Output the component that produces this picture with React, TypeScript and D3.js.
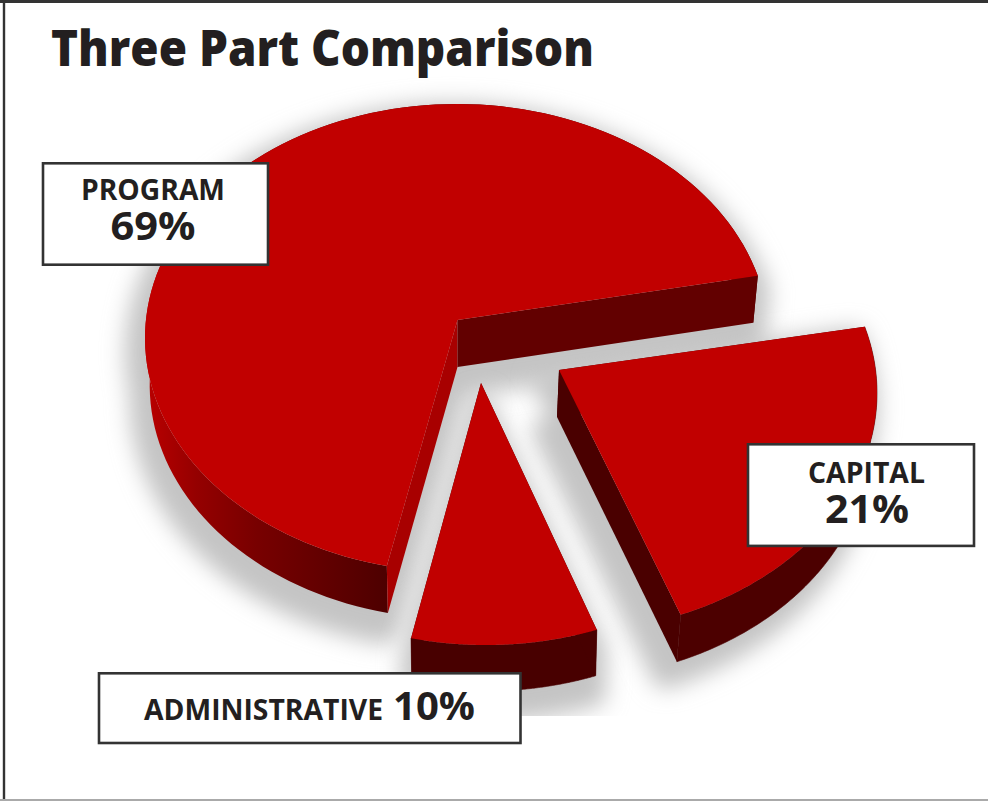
import React from "react";
import * as d3 from "d3";

const title = "Three Part Comparison";
const categories = ["CAPITAL", "ADMINISTRATIVE", "PROGRAM"];
const shares = [21, 10, 69];
const shareLabels = ["21%", "10%", "69%"];

const WIDTH = 988;
const HEIGHT = 801;
const INK = "#231f20";
const TOP = "#c10000";

type Layout = {
  apex: [number, number];
  centre: [number, number];
  rx: number;
  ry: number;
  sweep: [number, number];
  drop: [number, number];
  inset: number;
  cutA: string;
  cutB: string;
  wall: string;
  wallEdge: string;
  shadow: [number, number];
  spread: number;
};

const layouts: Layout[] = [
  { apex: [559, 370], centre: [559, 393], rx: 318, ry: 240, sweep: [74, 157.5], drop: [-2, 47], inset: 0.985, cutA: "#4a0000", cutB: "#4a0000", wall: "#4c0000", wallEdge: "#4c0000", shadow: [-12, 14], spread: 26 },
  { apex: [481, 383], centre: [486, 411], rx: 312, ry: 234, sweep: [159.2, 193.9], drop: [0, 46], inset: 0.99, cutA: "#480000", cutB: "#480000", wall: "#480000", wallEdge: "#480000", shadow: [0, 20], spread: 20 },
  { apex: [457.5, 320], centre: [457, 338], rx: 312, ry: 234, sweep: [193, 434.6], drop: [0, 47], inset: 0.985, cutA: "#a80000", cutB: "#620000", wall: "url(#programWall)", wallEdge: "none", shadow: [-4, 15], spread: 32 },
];

const pie = d3
  .pie<number>()
  .sort(null)
  .startAngle((74 * Math.PI) / 180)
  .endAngle((434 * Math.PI) / 180);
const pieArcs = pie(shares);
const line = d3.line<[number, number]>();

function buildSlice(arc: d3.PieArcDatum<number>, l: Layout) {
  // Pie angles are carried onto this slice's own perspective ellipse.
  const param = d3.scaleLinear().domain([arc.startAngle, arc.endAngle]).range(l.sweep);
  const samples = d3.range(0, 121).map((i) => arc.startAngle + ((arc.endAngle - arc.startAngle) * i) / 120);
  const topPt = (a: number): [number, number] => {
    const t = (param(a) * Math.PI) / 180;
    return [l.centre[0] + l.rx * Math.sin(t), l.centre[1] - l.ry * Math.cos(t)];
  };
  const lowPt = (a: number): [number, number] => {
    const t = (param(a) * Math.PI) / 180;
    return [
      l.centre[0] + l.drop[0] + l.inset * l.rx * Math.sin(t),
      l.centre[1] + l.drop[1] - l.ry * Math.cos(t),
    ];
  };
  const lowApex: [number, number] = [l.apex[0] + l.drop[0], l.apex[1] + l.drop[1]];
  const topRim = samples.map(topPt);
  const lowRim = samples.map(lowPt);
  const top = line([l.apex, ...topRim])! + "Z";
  const low = line([lowApex, ...lowRim])! + "Z";
  const wall = line([...topRim, ...lowRim.slice().reverse()])! + "Z";
  const first = samples[0];
  const last = samples[samples.length - 1];
  const cutA = line([l.apex, topPt(first), lowPt(first), lowApex])! + "Z";
  const cutB = line([l.apex, topPt(last), lowPt(last), lowApex])! + "Z";
  return { top, low, wall, cutA, cutB };
}

const slices = pieArcs.map((a, i) => ({ ...buildSlice(a, layouts[i]), l: layouts[i] }));
// painted back to front
const paintOrder = [2, 0, 1];

type Piece = { x: number; y: number; text: string; size: number; width: number };

function Box({ x, y, w, h, pieces }: { x: number; y: number; w: number; h: number; pieces: Piece[] }) {
  return (
    <g>
      <rect x={x} y={y} width={w} height={h} fill="#fff" stroke="#333" strokeWidth={2.6} />
      {pieces.map((p) => (
        <text
          key={p.text}
          x={p.x}
          y={p.y}
          fontSize={p.size}
          fontWeight={700}
          fill={INK}
          textLength={p.width}
          lengthAdjust="spacingAndGlyphs"
        >
          {p.text}
        </text>
      ))}
    </g>
  );
}

export default function App() {
  return (
    <svg
      width={WIDTH}
      height={HEIGHT}
      viewBox={`0 0 ${WIDTH} ${HEIGHT}`}
      style={{ position: "fixed", left: 0, top: 0, background: "#fff", fontFamily: "'Open Sans', sans-serif" }}
    >
      <defs>
        <linearGradient id="programWall" gradientUnits="userSpaceOnUse" x1={148} y1={0} x2={388} y2={0}>
          <stop offset="0" stopColor="#b80000" />
          <stop offset="0.2" stopColor="#950000" />
          <stop offset="0.45" stopColor="#780000" />
          <stop offset="1" stopColor="#4d0000" />
        </linearGradient>
        <filter id="soft" x="-20%" y="-20%" width="140%" height="140%">
          <feGaussianBlur stdDeviation={11} />
        </filter>
        <clipPath id="shadowClip">
          <rect x={0} y={0} width={WIDTH} height={716} />
        </clipPath>
      </defs>

      <line x1={0} x2={WIDTH} y1={1.5} y2={1.5} stroke="#333" strokeWidth={3} />
      <line x1={4} x2={4} y1={0} y2={HEIGHT} stroke="#333" strokeWidth={2.4} />
      <line x1={0} x2={WIDTH} y1={800} y2={800} stroke="#aaa" strokeWidth={2} />

      <text x={51} y={66} fontSize={50} fontWeight={800} fill={INK} textLength={543} lengthAdjust="spacingAndGlyphs">
        {title}
      </text>

      <g clipPath="url(#shadowClip)">
        {paintOrder.map((i) => (
          <g
            key={i}
            filter="url(#soft)"
            transform={`translate(${slices[i].l.shadow[0]},${slices[i].l.shadow[1]})`}
            fill="#c4c4c4"
            stroke="#c4c4c4"
            strokeWidth={slices[i].l.spread}
            strokeLinejoin="round"
          >
            <path d={slices[i].top} />
            <path d={slices[i].low} />
            <path d={slices[i].wall} />
          </g>
        ))}
      </g>

      {paintOrder.map((i) => {
        const s = slices[i];
        return (
          <g key={categories[i]}>
            <path d={s.wall} fill={s.l.wall} stroke={s.l.wallEdge} strokeWidth={0.6} />
            <path d={s.cutA} fill={s.l.cutA} />
            <path d={s.cutB} fill={s.l.cutB} />
            <path d={s.top} fill={TOP} />
          </g>
        );
      })}

      <Box
        x={43}
        y={163.3}
        w={225}
        h={101.4}
        pieces={[
          { x: 81, y: 200, text: categories[2], size: 28, width: 144 },
          { x: 110.5, y: 240, text: shareLabels[2], size: 39, width: 85 },
        ]}
      />
      <Box
        x={748}
        y={444.3}
        w={226}
        h={101.6}
        pieces={[
          { x: 808, y: 483, text: categories[0], size: 28, width: 117 },
          { x: 825, y: 523, text: shareLabels[0], size: 39, width: 84 },
        ]}
      />
      <Box
        x={99}
        y={673.3}
        w={421.5}
        h={69.7}
        pieces={[
          { x: 144, y: 720, text: categories[1], size: 28, width: 239 },
          { x: 393, y: 720, text: shareLabels[1], size: 39, width: 82 },
        ]}
      />
    </svg>
  );
}
